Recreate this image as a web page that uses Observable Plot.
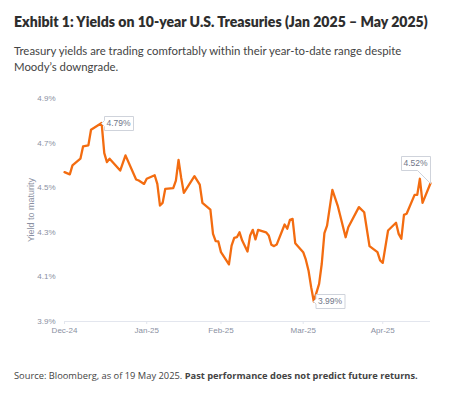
<!DOCTYPE html>
<html><head><meta charset="utf-8">
<script src="https://cdn.jsdelivr.net/npm/d3@7"></script>
<script src="https://cdn.jsdelivr.net/npm/@observablehq/plot@0.6"></script>
<style>
body{margin:0;background:#fff;width:455px;height:411px;position:relative;overflow:hidden;}
#title{position:absolute;left:14px;top:13px;font-family:Lato,sans-serif;font-weight:800;font-size:16px;line-height:18px;color:#2e2e2e;white-space:nowrap;}
#subtitle{position:absolute;left:14px;top:43px;font-family:Lato,sans-serif;font-size:13px;line-height:16px;color:#444;white-space:nowrap;}
#chart{position:absolute;left:0;top:85px;}
#caption{position:absolute;left:14px;top:369px;font-family:"Open Sans",sans-serif;font-size:10px;line-height:13px;color:#444;white-space:nowrap;}
</style></head>
<body>
<div id="title"><span id="t1">Exhibit 1: Yields on 10-year U.S. Treasuries (Jan 2025 – May 2025)</span></div>
<div id="subtitle"><span id="s1">Treasury yields are trading comfortably within their year-to-date range despite</span><br>Moody’s downgrade.</div>
<div id="chart"></div>
<div id="caption"><span id="c1">Source: Bloomberg, as of 19 May 2025. <b>Past performance does not predict future returns.</b></span></div>
<script>
const dates = ["2025-01-01","2025-01-03","2025-01-04","2025-01-07","2025-01-08","2025-01-10","2025-01-11","2025-01-15","2025-01-16","2025-01-17","2025-01-18","2025-01-22","2025-01-24","2025-01-28","2025-01-29","2025-01-31",
"2025-02-01","2025-02-04","2025-02-05","2025-02-06","2025-02-07","2025-02-08","2025-02-11","2025-02-12","2025-02-13","2025-02-14","2025-02-15","2025-02-19","2025-02-21","2025-02-22","2025-02-25","2025-02-26","2025-02-27","2025-02-28",
"2025-03-01","2025-03-04","2025-03-05","2025-03-06","2025-03-07","2025-03-08","2025-03-09","2025-03-11","2025-03-12","2025-03-13","2025-03-14","2025-03-15","2025-03-18","2025-03-19","2025-03-20","2025-03-21","2025-03-22","2025-03-25","2025-03-26","2025-03-27","2025-03-28","2025-03-29",
"2025-04-01","2025-04-02","2025-04-03","2025-04-04","2025-04-05","2025-04-07","2025-04-08","2025-04-09","2025-04-10","2025-04-12","2025-04-14","2025-04-17","2025-04-18","2025-04-22","2025-04-24","2025-04-26","2025-04-29","2025-04-30",
"2025-05-01","2025-05-03","2025-05-06","2025-05-07","2025-05-08","2025-05-09","2025-05-10","2025-05-13","2025-05-14","2025-05-15","2025-05-16","2025-05-19"];
const yields = [4.57,4.56,4.60,4.63,4.685,4.69,4.76,4.79,4.655,4.615,4.63,4.577,4.645,4.537,4.532,4.517,
4.54,4.556,4.517,4.42,4.432,4.495,4.498,4.532,4.625,4.544,4.477,4.552,4.514,4.432,4.402,4.293,4.26,4.259,
4.211,4.156,4.24,4.275,4.278,4.30,4.263,4.214,4.286,4.311,4.268,4.311,4.30,4.286,4.244,4.238,4.245,4.335,4.316,4.356,4.36,4.251,
4.211,4.177,4.129,4.054,3.99,4.069,4.159,4.296,4.33,4.49,4.42,4.278,4.323,4.413,4.39,4.238,4.211,4.174,
4.163,4.308,4.343,4.293,4.271,4.378,4.383,4.468,4.468,4.54,4.432,4.52];

const xTickDates = ["2025-01-01","2025-02-01","2025-03-01","2025-04-01","2025-05-01"];
const xTickLabels = ["Dec-24","Jan-25","Feb-25","Mar-25","Apr-25"];
const yTicks = [3.9,4.1,4.3,4.5,4.7,4.9];
const xDomain = ["2025-01-01","2025-05-19"];
const yDomain = [3.9,4.9];

const annLabels = ["4.79%","3.99%","4.52%"];
const annDates = ["2025-01-15","2025-04-05","2025-05-19"];
const annValues = [4.79,3.99,4.52];

// fit header/caption text widths to the reference layout
function fit(id, boxId, target) {
  const span = document.getElementById(id), box = document.getElementById(boxId);
  const fs = parseFloat(getComputedStyle(box).fontSize);
  const w = span.getBoundingClientRect().width;
  box.style.fontSize = (fs * target / w).toFixed(2) + "px";
}
fit("t1", "title", 414);
fit("s1", "subtitle", 388);
fit("c1", "caption", 404);

const parse = d3.utcParse("%Y-%m-%d");
const data = dates.map((d,i)=>({date: parse(d), value: yields[i]}));
const ann = annLabels.map((l,i)=>({date: parse(annDates[i]), value: annValues[i], label: l}));
const tickDates = xTickDates.map(parse);

const tipStyle = {x:"date", y:"value", title:"label", fill:"white", stroke:"#cfd3db", strokeWidth:1, textPadding:2, fontSize:8.5, pathFilter:"none"};

const chart = Plot.plot({
  width: 455, height: 260,
  marginTop: 13, marginBottom: 24, marginLeft: 64, marginRight: 25,
  style: {fontFamily: "'Liberation Sans', Arial, sans-serif", fontSize: "8px", color: "#8a90a2", background: "transparent"},
  x: {type: "utc", domain: xDomain.map(parse)},
  y: {domain: yDomain},
  marks: [
    Plot.ruleY([yDomain[0]], {stroke: "#e3e6ee"}),
    Plot.axisX({ticks: tickDates, tickFormat: d => xTickLabels[tickDates.findIndex(t => +t === +d)], tickSize: 3, tickPadding: 3, stroke: "#e3e6ee", label: null}),
    Plot.axisY({ticks: yTicks, tickFormat: d => d.toFixed(1) + "%", tickSize: 0, tickPadding: 9, label: "Yield to maturity", labelAnchor: "center", labelArrow: "none", labelOffset: 37, fontSize: 8}),
    Plot.line(data, {x: "date", y: "value", stroke: "#f36c10", strokeWidth: 2.3}),
    Plot.tip([ann[0]], {...tipStyle, anchor: "left", pointerSize: 6}),
    Plot.tip([ann[1]], {...tipStyle, anchor: "left", pointerSize: 5}),
    Plot.tip([ann[2]], {...tipStyle, anchor: "bottom-right", pointerSize: 13})
  ]
});
chart.querySelectorAll('g[aria-label="tip"] text, g[aria-label="tip"] tspan').forEach(t => t.setAttribute("fill", "#6f7688"));
chart.querySelectorAll('g[aria-label="y-axis label"] text').forEach(t => t.setAttribute("font-size", "9"));
document.getElementById("chart").appendChild(chart);
</script>
</body></html>
